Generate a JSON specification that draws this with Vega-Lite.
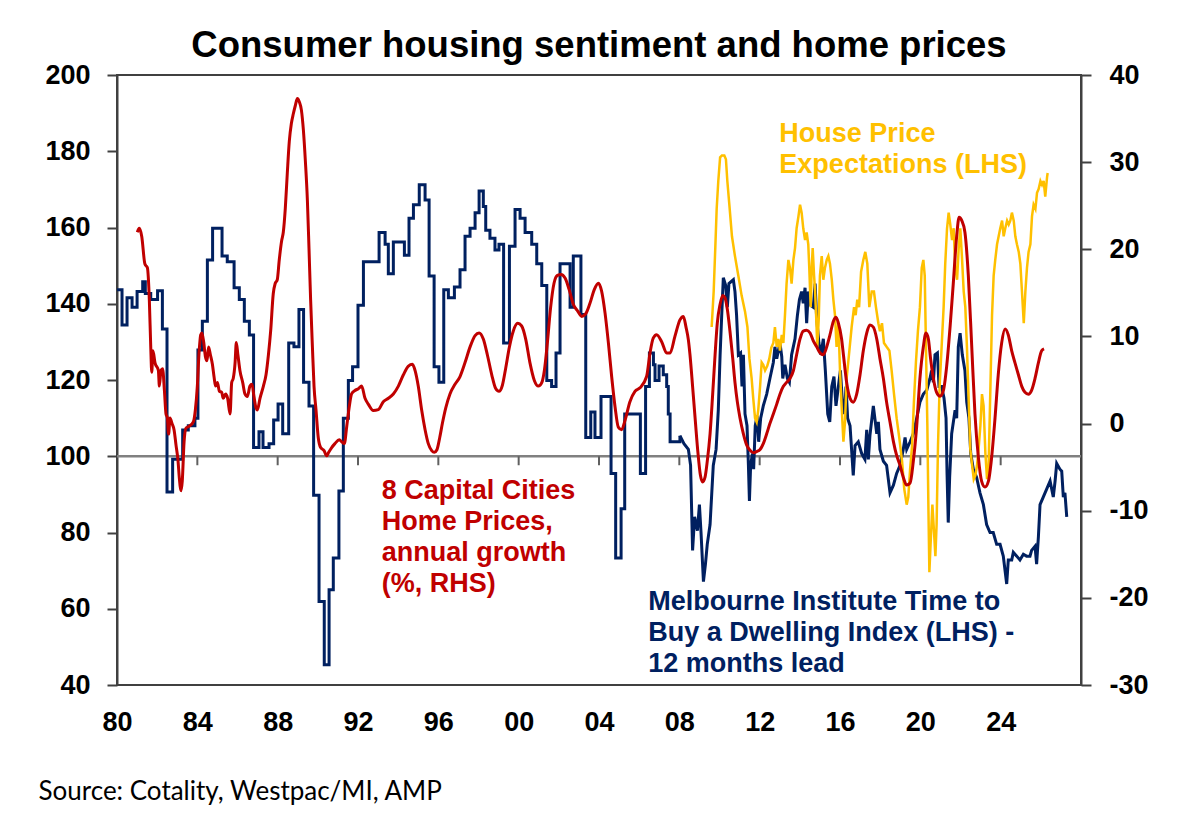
{
  "$schema": "https://vega.github.io/schema/vega-lite/v6.json",
  "width": 964,
  "height": 610,
  "autosize": {"type": "none"},
  "padding": {"left": 117, "top": 75, "right": 96, "bottom": 139},
  "background": "white",
  "config": {"view": {"stroke": "#404040", "strokeWidth": 2}, "font": "Liberation Sans"},
  "title": {
    "text": "Consumer housing sentiment and home prices",
    "font": "Liberation Sans",
    "fontSize": 36.5,
    "fontWeight": "bold",
    "color": "black",
    "anchor": "middle",
    "frame": "group",
    "baseline": "alphabetic",
    "offset": 19,
    "dy": 51
  },
  "datasets": {
    "blueQ": [
      {"t": 1980.00, "v": 143.7}, {"t": 1980.25, "v": 134.4}, {"t": 1980.50, "v": 141.6}, {"t": 1980.75, "v": 139.1},
      {"t": 1981.00, "v": 143.2}, {"t": 1981.28, "v": 145.8}, {"t": 1981.41, "v": 142.7}, {"t": 1981.68, "v": 141.1},
      {"t": 1982.02, "v": 143.4}, {"t": 1982.26, "v": 133.4}, {"t": 1982.49, "v": 90.6}, {"t": 1982.77, "v": 99.2},
      {"t": 1983.27, "v": 106.9}, {"t": 1983.55, "v": 108.0}, {"t": 1983.88, "v": 110.0}, {"t": 1984.03, "v": 127.9},
      {"t": 1984.25, "v": 135.4}, {"t": 1984.50, "v": 151.5}, {"t": 1984.76, "v": 159.8}, {"t": 1985.23, "v": 152.5},
      {"t": 1985.49, "v": 151.0}, {"t": 1985.83, "v": 144.2}, {"t": 1986.09, "v": 141.1}, {"t": 1986.34, "v": 135.4},
      {"t": 1986.59, "v": 131.8}, {"t": 1986.80, "v": 102.3}, {"t": 1987.07, "v": 106.4}, {"t": 1987.27, "v": 102.3},
      {"t": 1987.57, "v": 103.3}, {"t": 1987.80, "v": 109.5}, {"t": 1988.02, "v": 113.7}, {"t": 1988.25, "v": 105.9},
      {"t": 1988.55, "v": 129.7}, {"t": 1988.81, "v": 128.7}, {"t": 1989.06, "v": 138.5}, {"t": 1989.29, "v": 119.4},
      {"t": 1989.56, "v": 113.2}, {"t": 1989.79, "v": 89.8}, {"t": 1990.06, "v": 61.9}, {"t": 1990.32, "v": 45.3},
      {"t": 1990.56, "v": 65.0}, {"t": 1990.77, "v": 73.3}, {"t": 1991.05, "v": 90.9}, {"t": 1991.27, "v": 110.0},
      {"t": 1991.52, "v": 119.9}, {"t": 1991.73, "v": 123.5}, {"t": 1992.00, "v": 139.6}, {"t": 1992.27, "v": 151.0},
      {"t": 1993.05, "v": 158.7}, {"t": 1993.35, "v": 155.6}, {"t": 1993.51, "v": 147.9}, {"t": 1993.76, "v": 156.2},
      {"t": 1994.31, "v": 152.7}, {"t": 1994.54, "v": 162.4}, {"t": 1994.76, "v": 166.0}, {"t": 1995.05, "v": 171.2},
      {"t": 1995.34, "v": 167.2}, {"t": 1995.54, "v": 147.3}, {"t": 1995.79, "v": 123.5}, {"t": 1996.03, "v": 119.4},
      {"t": 1996.27, "v": 143.7}, {"t": 1996.50, "v": 141.6}, {"t": 1996.80, "v": 144.4}, {"t": 1997.08, "v": 148.9},
      {"t": 1997.33, "v": 157.7}, {"t": 1997.58, "v": 159.8}, {"t": 1997.83, "v": 163.9}, {"t": 1998.03, "v": 169.6},
      {"t": 1998.24, "v": 165.5}, {"t": 1998.36, "v": 159.3}, {"t": 1998.57, "v": 157.2}, {"t": 1998.82, "v": 154.1},
      {"t": 1999.02, "v": 155.6}, {"t": 1999.25, "v": 129.7}, {"t": 1999.54, "v": 155.1}, {"t": 1999.82, "v": 164.7},
      {"t": 2000.07, "v": 162.4}, {"t": 2000.32, "v": 158.7}, {"t": 2000.65, "v": 155.6}, {"t": 2000.90, "v": 150.5},
      {"t": 2001.15, "v": 144.8}, {"t": 2001.40, "v": 119.9}, {"t": 2001.64, "v": 118.3}, {"t": 2001.86, "v": 127.1},
      {"t": 2002.06, "v": 150.5}, {"t": 2002.56, "v": 139.1}, {"t": 2002.72, "v": 152.5}, {"t": 2003.10, "v": 137.2},
      {"t": 2003.34, "v": 104.9}, {"t": 2003.59, "v": 111.6}, {"t": 2003.80, "v": 104.9}, {"t": 2004.10, "v": 115.7},
      {"t": 2004.60, "v": 95.5}, {"t": 2004.83, "v": 73.3}, {"t": 2005.10, "v": 86.2}, {"t": 2005.28, "v": 111.1},
      {"t": 2006.06, "v": 95.5}, {"t": 2006.32, "v": 118.3}, {"t": 2006.51, "v": 127.1}, {"t": 2006.71, "v": 124.0},
      {"t": 2006.79, "v": 119.9}, {"t": 2006.99, "v": 123.7}, {"t": 2007.20, "v": 121.4}, {"t": 2007.37, "v": 118.3},
      {"t": 2007.45, "v": 111.1}, {"t": 2007.54, "v": 103.8}, {"t": 2008.03, "v": 105.4}
    ],
    "blueM": [
      {"t": 2008.03, "v": 105.4}, {"t": 2008.23, "v": 103.3}, {"t": 2008.45, "v": 101.8}, {"t": 2008.56, "v": 97.6},
      {"t": 2008.66, "v": 75.3}, {"t": 2008.76, "v": 84.1}, {"t": 2008.90, "v": 80.5}, {"t": 2009.00, "v": 87.3},
      {"t": 2009.08, "v": 80.0}, {"t": 2009.20, "v": 67.1}, {"t": 2009.30, "v": 71.7}, {"t": 2009.39, "v": 76.9},
      {"t": 2009.53, "v": 82.1}, {"t": 2009.69, "v": 97.6}, {"t": 2009.83, "v": 101.8}, {"t": 2009.94, "v": 112.1},
      {"t": 2010.03, "v": 126.6}, {"t": 2010.11, "v": 137.0}, {"t": 2010.19, "v": 146.8}, {"t": 2010.31, "v": 144.8},
      {"t": 2010.39, "v": 139.1}, {"t": 2010.47, "v": 145.3}, {"t": 2010.69, "v": 146.3}, {"t": 2010.77, "v": 143.2},
      {"t": 2010.85, "v": 137.0}, {"t": 2010.94, "v": 126.6}, {"t": 2011.05, "v": 127.1}, {"t": 2011.12, "v": 118.3},
      {"t": 2011.19, "v": 126.6}, {"t": 2011.27, "v": 111.1}, {"t": 2011.37, "v": 108.0}, {"t": 2011.44, "v": 97.6},
      {"t": 2011.49, "v": 88.3}, {"t": 2011.55, "v": 97.6}, {"t": 2011.64, "v": 100.7}, {"t": 2011.70, "v": 96.6},
      {"t": 2011.78, "v": 108.0}, {"t": 2011.87, "v": 110.6}, {"t": 2011.95, "v": 103.8}, {"t": 2012.05, "v": 110.0},
      {"t": 2012.18, "v": 113.2}, {"t": 2012.35, "v": 116.3}, {"t": 2012.51, "v": 120.4}, {"t": 2012.68, "v": 124.6},
      {"t": 2012.76, "v": 128.7}, {"t": 2012.85, "v": 125.6}, {"t": 2013.01, "v": 129.7}, {"t": 2013.10, "v": 126.1},
      {"t": 2013.15, "v": 120.4}, {"t": 2013.26, "v": 124.0}, {"t": 2013.38, "v": 120.4}, {"t": 2013.48, "v": 119.4},
      {"t": 2013.59, "v": 126.6}, {"t": 2013.76, "v": 130.8}, {"t": 2013.88, "v": 137.0}, {"t": 2013.98, "v": 141.1},
      {"t": 2014.09, "v": 143.2}, {"t": 2014.17, "v": 140.1}, {"t": 2014.26, "v": 144.2}, {"t": 2014.34, "v": 134.9},
      {"t": 2014.42, "v": 143.2}, {"t": 2014.54, "v": 139.6}, {"t": 2014.67, "v": 139.1}, {"t": 2014.76, "v": 145.3},
      {"t": 2014.84, "v": 136.0}, {"t": 2014.95, "v": 129.7}, {"t": 2015.05, "v": 126.6}, {"t": 2015.17, "v": 130.8},
      {"t": 2015.27, "v": 122.5}, {"t": 2015.39, "v": 111.1}, {"t": 2015.49, "v": 109.0}, {"t": 2015.59, "v": 118.3},
      {"t": 2015.70, "v": 120.9}, {"t": 2015.80, "v": 113.2}, {"t": 2015.92, "v": 118.3}, {"t": 2016.02, "v": 122.5},
      {"t": 2016.12, "v": 114.2}, {"t": 2016.22, "v": 111.1}, {"t": 2016.30, "v": 118.3}, {"t": 2016.38, "v": 110.0},
      {"t": 2016.50, "v": 108.0}, {"t": 2016.66, "v": 95.0}, {"t": 2016.75, "v": 102.8}, {"t": 2016.91, "v": 103.8},
      {"t": 2017.08, "v": 100.7}, {"t": 2017.24, "v": 99.2}, {"t": 2017.33, "v": 106.9}, {"t": 2017.41, "v": 99.2},
      {"t": 2017.49, "v": 105.4}, {"t": 2017.66, "v": 113.2}, {"t": 2017.83, "v": 105.9}, {"t": 2017.91, "v": 109.0},
      {"t": 2017.99, "v": 101.8}, {"t": 2018.16, "v": 98.7}, {"t": 2018.32, "v": 97.6}, {"t": 2018.49, "v": 90.4},
      {"t": 2018.66, "v": 92.4}, {"t": 2018.82, "v": 95.5}, {"t": 2018.99, "v": 97.6}, {"t": 2019.15, "v": 101.8},
      {"t": 2019.24, "v": 104.9}, {"t": 2019.32, "v": 101.8}, {"t": 2019.49, "v": 103.8}, {"t": 2019.65, "v": 105.9},
      {"t": 2019.82, "v": 110.0}, {"t": 2019.98, "v": 114.2}, {"t": 2020.15, "v": 116.3}, {"t": 2020.32, "v": 117.3},
      {"t": 2020.48, "v": 120.4}, {"t": 2020.56, "v": 122.5}, {"t": 2020.65, "v": 119.4}, {"t": 2020.73, "v": 126.6},
      {"t": 2020.85, "v": 127.1}, {"t": 2020.93, "v": 118.3}, {"t": 2021.06, "v": 118.3}, {"t": 2021.18, "v": 115.2},
      {"t": 2021.28, "v": 110.0}, {"t": 2021.33, "v": 95.5}, {"t": 2021.39, "v": 82.6}, {"t": 2021.46, "v": 94.5},
      {"t": 2021.56, "v": 105.9}, {"t": 2021.73, "v": 112.1}, {"t": 2021.81, "v": 110.0}, {"t": 2021.89, "v": 128.7},
      {"t": 2021.98, "v": 132.3}, {"t": 2022.09, "v": 126.6}, {"t": 2022.22, "v": 122.5}, {"t": 2022.31, "v": 114.2},
      {"t": 2022.42, "v": 110.0}, {"t": 2022.51, "v": 100.7}, {"t": 2022.64, "v": 96.6}, {"t": 2022.80, "v": 94.5},
      {"t": 2022.97, "v": 90.4}, {"t": 2023.14, "v": 87.3}, {"t": 2023.30, "v": 82.1}, {"t": 2023.47, "v": 80.0},
      {"t": 2023.63, "v": 80.0}, {"t": 2023.80, "v": 76.9}, {"t": 2023.97, "v": 76.9}, {"t": 2024.13, "v": 73.8},
      {"t": 2024.30, "v": 66.5}, {"t": 2024.38, "v": 72.8}, {"t": 2024.55, "v": 72.8}, {"t": 2024.63, "v": 74.8},
      {"t": 2024.80, "v": 73.8}, {"t": 2024.96, "v": 72.8}, {"t": 2025.13, "v": 74.3}, {"t": 2025.29, "v": 73.8},
      {"t": 2025.46, "v": 73.8}, {"t": 2025.54, "v": 75.3}, {"t": 2025.71, "v": 76.4}, {"t": 2025.79, "v": 71.7},
      {"t": 2025.88, "v": 79.0}, {"t": 2025.96, "v": 87.3}, {"t": 2026.12, "v": 89.3}, {"t": 2026.29, "v": 91.4},
      {"t": 2026.46, "v": 93.5}, {"t": 2026.62, "v": 89.3}, {"t": 2026.71, "v": 93.5}, {"t": 2026.79, "v": 98.1},
      {"t": 2026.95, "v": 96.6}, {"t": 2027.04, "v": 96.1}, {"t": 2027.12, "v": 89.3}, {"t": 2027.20, "v": 90.4},
      {"t": 2027.29, "v": 84.1}
    ],
    "yellow": [
      {"t": 2009.61, "v": 133.9}, {"t": 2009.71, "v": 143.2}, {"t": 2009.79, "v": 154.6}, {"t": 2009.86, "v": 165.0},
      {"t": 2009.94, "v": 172.2}, {"t": 2010.03, "v": 178.4}, {"t": 2010.12, "v": 178.9}, {"t": 2010.24, "v": 178.9},
      {"t": 2010.32, "v": 177.9}, {"t": 2010.39, "v": 172.2}, {"t": 2010.49, "v": 166.0}, {"t": 2010.62, "v": 157.7},
      {"t": 2010.77, "v": 152.5}, {"t": 2010.94, "v": 147.3}, {"t": 2011.10, "v": 142.2}, {"t": 2011.27, "v": 138.0},
      {"t": 2011.39, "v": 133.9}, {"t": 2011.49, "v": 125.6}, {"t": 2011.60, "v": 120.4}, {"t": 2011.68, "v": 115.2},
      {"t": 2011.77, "v": 110.0}, {"t": 2011.85, "v": 109.0}, {"t": 2011.93, "v": 112.1}, {"t": 2012.02, "v": 118.3},
      {"t": 2012.10, "v": 124.6}, {"t": 2012.18, "v": 124.0}, {"t": 2012.27, "v": 122.5}, {"t": 2012.38, "v": 123.7},
      {"t": 2012.48, "v": 125.6}, {"t": 2012.58, "v": 128.5}, {"t": 2012.68, "v": 129.7}, {"t": 2012.76, "v": 133.9},
      {"t": 2012.85, "v": 128.7}, {"t": 2012.93, "v": 130.8}, {"t": 2013.01, "v": 127.7}, {"t": 2013.10, "v": 131.8},
      {"t": 2013.18, "v": 129.7}, {"t": 2013.26, "v": 137.0}, {"t": 2013.34, "v": 145.3}, {"t": 2013.43, "v": 151.5},
      {"t": 2013.51, "v": 149.4}, {"t": 2013.59, "v": 145.3}, {"t": 2013.68, "v": 151.5}, {"t": 2013.76, "v": 154.6},
      {"t": 2013.84, "v": 159.8}, {"t": 2013.93, "v": 162.9}, {"t": 2014.01, "v": 166.0}, {"t": 2014.09, "v": 163.9},
      {"t": 2014.17, "v": 159.8}, {"t": 2014.26, "v": 156.7}, {"t": 2014.34, "v": 158.7}, {"t": 2014.42, "v": 155.6},
      {"t": 2014.47, "v": 149.4}, {"t": 2014.54, "v": 139.1}, {"t": 2014.59, "v": 149.4}, {"t": 2014.64, "v": 154.6},
      {"t": 2014.71, "v": 147.3}, {"t": 2014.76, "v": 143.2}, {"t": 2014.81, "v": 137.0}, {"t": 2014.87, "v": 128.7},
      {"t": 2014.94, "v": 135.9}, {"t": 2015.00, "v": 147.3}, {"t": 2015.09, "v": 152.5}, {"t": 2015.17, "v": 146.3},
      {"t": 2015.25, "v": 149.4}, {"t": 2015.34, "v": 151.5}, {"t": 2015.42, "v": 152.5}, {"t": 2015.50, "v": 150.5},
      {"t": 2015.59, "v": 146.3}, {"t": 2015.67, "v": 141.1}, {"t": 2015.75, "v": 137.0}, {"t": 2015.83, "v": 128.7},
      {"t": 2015.92, "v": 134.9}, {"t": 2016.00, "v": 122.5}, {"t": 2016.08, "v": 113.2}, {"t": 2016.17, "v": 103.8},
      {"t": 2016.25, "v": 109.0}, {"t": 2016.33, "v": 120.4}, {"t": 2016.41, "v": 124.6}, {"t": 2016.58, "v": 133.9},
      {"t": 2016.70, "v": 139.1}, {"t": 2016.78, "v": 137.0}, {"t": 2016.86, "v": 141.1}, {"t": 2016.95, "v": 139.1},
      {"t": 2017.05, "v": 148.4}, {"t": 2017.16, "v": 151.5}, {"t": 2017.26, "v": 153.6}, {"t": 2017.36, "v": 150.5},
      {"t": 2017.46, "v": 139.1}, {"t": 2017.58, "v": 143.2}, {"t": 2017.69, "v": 143.2}, {"t": 2017.79, "v": 139.1},
      {"t": 2017.91, "v": 134.9}, {"t": 2017.99, "v": 132.8}, {"t": 2018.09, "v": 134.9}, {"t": 2018.19, "v": 129.7},
      {"t": 2018.32, "v": 128.7}, {"t": 2018.46, "v": 127.7}, {"t": 2018.57, "v": 122.5}, {"t": 2018.69, "v": 116.3},
      {"t": 2018.82, "v": 110.0}, {"t": 2018.95, "v": 104.9}, {"t": 2019.09, "v": 98.7}, {"t": 2019.20, "v": 91.4},
      {"t": 2019.32, "v": 87.3}, {"t": 2019.40, "v": 89.3}, {"t": 2019.49, "v": 96.6}, {"t": 2019.59, "v": 102.8},
      {"t": 2019.68, "v": 114.2}, {"t": 2019.78, "v": 124.6}, {"t": 2019.88, "v": 132.8}, {"t": 2019.98, "v": 139.1},
      {"t": 2020.07, "v": 149.4}, {"t": 2020.15, "v": 151.5}, {"t": 2020.22, "v": 147.3}, {"t": 2020.28, "v": 128.7},
      {"t": 2020.35, "v": 108.0}, {"t": 2020.40, "v": 87.3}, {"t": 2020.45, "v": 69.6}, {"t": 2020.51, "v": 76.9},
      {"t": 2020.60, "v": 87.3}, {"t": 2020.66, "v": 82.1}, {"t": 2020.75, "v": 73.8}, {"t": 2020.81, "v": 82.1},
      {"t": 2020.88, "v": 102.8}, {"t": 2020.96, "v": 118.3}, {"t": 2021.06, "v": 128.7}, {"t": 2021.16, "v": 139.1},
      {"t": 2021.24, "v": 150.5}, {"t": 2021.33, "v": 159.8}, {"t": 2021.41, "v": 163.9}, {"t": 2021.49, "v": 160.8},
      {"t": 2021.58, "v": 156.7}, {"t": 2021.66, "v": 159.8}, {"t": 2021.74, "v": 149.4}, {"t": 2021.83, "v": 146.3},
      {"t": 2021.91, "v": 154.6}, {"t": 2021.99, "v": 159.8}, {"t": 2022.07, "v": 152.5}, {"t": 2022.16, "v": 143.2},
      {"t": 2022.24, "v": 139.1}, {"t": 2022.32, "v": 128.7}, {"t": 2022.41, "v": 114.2}, {"t": 2022.49, "v": 101.8},
      {"t": 2022.57, "v": 98.0}, {"t": 2022.66, "v": 94.0}, {"t": 2022.74, "v": 95.0}, {"t": 2022.82, "v": 97.5},
      {"t": 2022.90, "v": 101.8}, {"t": 2022.99, "v": 108.0}, {"t": 2023.07, "v": 116.3}, {"t": 2023.15, "v": 113.2},
      {"t": 2023.24, "v": 100.7}, {"t": 2023.32, "v": 94.0}, {"t": 2023.40, "v": 97.6}, {"t": 2023.49, "v": 118.3},
      {"t": 2023.57, "v": 137.0}, {"t": 2023.65, "v": 147.3}, {"t": 2023.73, "v": 151.5}, {"t": 2023.82, "v": 155.6},
      {"t": 2023.90, "v": 157.7}, {"t": 2023.98, "v": 159.8}, {"t": 2024.07, "v": 161.8}, {"t": 2024.15, "v": 157.7},
      {"t": 2024.23, "v": 159.8}, {"t": 2024.32, "v": 161.8}, {"t": 2024.40, "v": 160.8}, {"t": 2024.48, "v": 161.8},
      {"t": 2024.56, "v": 163.9}, {"t": 2024.65, "v": 161.8}, {"t": 2024.73, "v": 157.7}, {"t": 2024.81, "v": 155.6},
      {"t": 2024.90, "v": 153.6}, {"t": 2024.98, "v": 150.5}, {"t": 2025.06, "v": 143.2}, {"t": 2025.15, "v": 134.9},
      {"t": 2025.23, "v": 143.2}, {"t": 2025.31, "v": 149.4}, {"t": 2025.39, "v": 153.6}, {"t": 2025.48, "v": 155.6},
      {"t": 2025.56, "v": 162.9}, {"t": 2025.64, "v": 166.0}, {"t": 2025.73, "v": 164.9}, {"t": 2025.81, "v": 169.1},
      {"t": 2025.89, "v": 170.1}, {"t": 2025.98, "v": 172.2}, {"t": 2026.06, "v": 171.2}, {"t": 2026.14, "v": 172.2},
      {"t": 2026.22, "v": 168.1}, {"t": 2026.31, "v": 173.2}, {"t": 2026.34, "v": 174.3}
    ],
    "red": [
      {"t": 1981.01, "v": 21.95}, {"t": 1981.11, "v": 22.4}, {"t": 1981.23, "v": 21.5}, {"t": 1981.39, "v": 18.3},
      {"t": 1981.51, "v": 17.9}, {"t": 1981.61, "v": 14.2}, {"t": 1981.68, "v": 8.8}, {"t": 1981.73, "v": 5.9},
      {"t": 1981.79, "v": 8.35}, {"t": 1981.89, "v": 7.0}, {"t": 1982.06, "v": 6.1}, {"t": 1982.11, "v": 4.3},
      {"t": 1982.19, "v": 6.1}, {"t": 1982.27, "v": 6.3}, {"t": 1982.36, "v": 3.8}, {"t": 1982.44, "v": 1.1},
      {"t": 1982.51, "v": 0.65}, {"t": 1982.57, "v": -1.2}, {"t": 1982.64, "v": 0.65}, {"t": 1982.74, "v": 0.0},
      {"t": 1982.84, "v": -0.7}, {"t": 1982.94, "v": -2.5}, {"t": 1983.04, "v": -4.3}, {"t": 1983.10, "v": -6.15},
      {"t": 1983.19, "v": -7.7}, {"t": 1983.25, "v": -6.6}, {"t": 1983.34, "v": -2.1}, {"t": 1983.44, "v": -0.5},
      {"t": 1983.60, "v": -0.3}, {"t": 1983.80, "v": 0.2}, {"t": 1983.90, "v": 1.55}, {"t": 1984.00, "v": 4.3},
      {"t": 1984.08, "v": 7.9}, {"t": 1984.17, "v": 10.2}, {"t": 1984.23, "v": 10.4}, {"t": 1984.32, "v": 9.3},
      {"t": 1984.40, "v": 7.7}, {"t": 1984.48, "v": 7.2}, {"t": 1984.56, "v": 8.8}, {"t": 1984.65, "v": 7.9},
      {"t": 1984.75, "v": 6.8}, {"t": 1984.83, "v": 5.4}, {"t": 1984.91, "v": 4.3}, {"t": 1985.00, "v": 4.7},
      {"t": 1985.10, "v": 3.7}, {"t": 1985.21, "v": 3.6}, {"t": 1985.29, "v": 2.9}, {"t": 1985.41, "v": 3.4},
      {"t": 1985.51, "v": 2.9}, {"t": 1985.63, "v": 1.1}, {"t": 1985.71, "v": 4.7}, {"t": 1985.79, "v": 5.2},
      {"t": 1985.88, "v": 7.0}, {"t": 1985.94, "v": 9.3}, {"t": 1986.02, "v": 7.9}, {"t": 1986.12, "v": 6.1},
      {"t": 1986.26, "v": 4.7}, {"t": 1986.37, "v": 3.4}, {"t": 1986.49, "v": 3.1}, {"t": 1986.62, "v": 4.3},
      {"t": 1986.72, "v": 4.5}, {"t": 1986.82, "v": 3.1}, {"t": 1986.92, "v": 1.8}, {"t": 1986.99, "v": 1.55},
      {"t": 1987.12, "v": 2.9}, {"t": 1987.29, "v": 4.3}, {"t": 1987.42, "v": 5.6}, {"t": 1987.54, "v": 7.9},
      {"t": 1987.65, "v": 10.6}, {"t": 1987.78, "v": 14.9}, {"t": 1987.88, "v": 16.1}, {"t": 1987.98, "v": 16.5},
      {"t": 1988.08, "v": 18.8}, {"t": 1988.20, "v": 21.0}, {"t": 1988.28, "v": 21.95}, {"t": 1988.38, "v": 24.7},
      {"t": 1988.48, "v": 28.75}, {"t": 1988.58, "v": 32.4}, {"t": 1988.68, "v": 34.4}, {"t": 1988.78, "v": 35.55},
      {"t": 1988.88, "v": 36.5}, {"t": 1988.98, "v": 37.3}, {"t": 1989.08, "v": 36.9}, {"t": 1989.18, "v": 36.0},
      {"t": 1989.28, "v": 33.7}, {"t": 1989.38, "v": 30.1}, {"t": 1989.48, "v": 25.6}, {"t": 1989.56, "v": 20.1},
      {"t": 1989.64, "v": 14.25}, {"t": 1989.73, "v": 8.8}, {"t": 1989.81, "v": 4.3}, {"t": 1989.91, "v": 1.55},
      {"t": 1990.02, "v": -1.6}, {"t": 1990.14, "v": -2.75}, {"t": 1990.31, "v": -3.1}, {"t": 1990.44, "v": -3.7},
      {"t": 1990.54, "v": -3.3}, {"t": 1990.69, "v": -2.75}, {"t": 1990.85, "v": -2.3}, {"t": 1991.07, "v": -1.85},
      {"t": 1991.19, "v": -2.1}, {"t": 1991.32, "v": -2.3}, {"t": 1991.44, "v": -0.3}, {"t": 1991.57, "v": 2.0},
      {"t": 1991.68, "v": 3.4}, {"t": 1991.85, "v": 3.8}, {"t": 1992.02, "v": 4.0}, {"t": 1992.18, "v": 4.3},
      {"t": 1992.35, "v": 2.9}, {"t": 1992.52, "v": 2.2}, {"t": 1992.76, "v": 1.5}, {"t": 1993.01, "v": 1.6},
      {"t": 1993.26, "v": 2.5}, {"t": 1993.51, "v": 2.9}, {"t": 1993.76, "v": 3.4}, {"t": 1994.01, "v": 4.3},
      {"t": 1994.26, "v": 5.6}, {"t": 1994.51, "v": 6.6}, {"t": 1994.71, "v": 6.8}, {"t": 1994.84, "v": 6.1},
      {"t": 1995.00, "v": 4.3}, {"t": 1995.17, "v": 1.55}, {"t": 1995.34, "v": -0.7}, {"t": 1995.50, "v": -2.3},
      {"t": 1995.67, "v": -3.1}, {"t": 1995.80, "v": -3.3}, {"t": 1995.93, "v": -3.0}, {"t": 1996.07, "v": -1.6},
      {"t": 1996.20, "v": 0.0}, {"t": 1996.37, "v": 1.8}, {"t": 1996.58, "v": 3.4}, {"t": 1996.83, "v": 4.5},
      {"t": 1997.08, "v": 5.4}, {"t": 1997.33, "v": 7.0}, {"t": 1997.58, "v": 8.8}, {"t": 1997.83, "v": 10.1},
      {"t": 1998.03, "v": 10.4}, {"t": 1998.24, "v": 9.7}, {"t": 1998.44, "v": 7.9}, {"t": 1998.66, "v": 5.6},
      {"t": 1998.85, "v": 4.05}, {"t": 1999.02, "v": 3.7}, {"t": 1999.19, "v": 4.4}, {"t": 1999.35, "v": 6.3},
      {"t": 1999.54, "v": 8.8}, {"t": 1999.73, "v": 10.6}, {"t": 1999.95, "v": 11.5}, {"t": 2000.15, "v": 11.2},
      {"t": 2000.35, "v": 9.7}, {"t": 2000.56, "v": 7.0}, {"t": 2000.78, "v": 4.95}, {"t": 2000.98, "v": 4.3},
      {"t": 2001.15, "v": 4.7}, {"t": 2001.28, "v": 6.1}, {"t": 2001.43, "v": 9.3}, {"t": 2001.59, "v": 13.3},
      {"t": 2001.76, "v": 16.1}, {"t": 2001.93, "v": 17.0}, {"t": 2002.11, "v": 17.1}, {"t": 2002.31, "v": 16.7},
      {"t": 2002.51, "v": 15.4}, {"t": 2002.72, "v": 13.7}, {"t": 2002.94, "v": 12.9}, {"t": 2003.14, "v": 12.3},
      {"t": 2003.34, "v": 12.6}, {"t": 2003.55, "v": 13.8}, {"t": 2003.77, "v": 15.4}, {"t": 2003.97, "v": 16.1},
      {"t": 2004.13, "v": 15.2}, {"t": 2004.30, "v": 12.7}, {"t": 2004.47, "v": 9.2}, {"t": 2004.63, "v": 5.4},
      {"t": 2004.80, "v": 1.9}, {"t": 2004.96, "v": -0.4}, {"t": 2005.13, "v": -0.7}, {"t": 2005.30, "v": 0.4},
      {"t": 2005.54, "v": 2.5}, {"t": 2005.79, "v": 3.7}, {"t": 2006.04, "v": 4.1}, {"t": 2006.37, "v": 5.4},
      {"t": 2006.54, "v": 8.1}, {"t": 2006.70, "v": 9.8}, {"t": 2006.87, "v": 10.2}, {"t": 2007.12, "v": 9.4},
      {"t": 2007.37, "v": 8.1}, {"t": 2007.54, "v": 8.1}, {"t": 2007.78, "v": 10.0}, {"t": 2008.03, "v": 11.9},
      {"t": 2008.20, "v": 12.3}, {"t": 2008.33, "v": 11.1}, {"t": 2008.45, "v": 9.6}, {"t": 2008.53, "v": 7.9},
      {"t": 2008.66, "v": 4.27}, {"t": 2008.80, "v": 0.19}, {"t": 2008.93, "v": -3.43}, {"t": 2009.05, "v": -5.93},
      {"t": 2009.16, "v": -6.7}, {"t": 2009.28, "v": -6.15}, {"t": 2009.39, "v": -4.34}, {"t": 2009.53, "v": -1.17},
      {"t": 2009.66, "v": 3.37}, {"t": 2009.78, "v": 7.9}, {"t": 2009.89, "v": 11.53}, {"t": 2010.03, "v": 13.7},
      {"t": 2010.16, "v": 14.7}, {"t": 2010.27, "v": 14.47}, {"t": 2010.39, "v": 13.11}, {"t": 2010.52, "v": 10.62},
      {"t": 2010.66, "v": 7.45}, {"t": 2010.77, "v": 4.73}, {"t": 2010.89, "v": 2.46}, {"t": 2011.02, "v": 0.65},
      {"t": 2011.19, "v": -1.17}, {"t": 2011.35, "v": -2.44}, {"t": 2011.52, "v": -3.07}, {"t": 2011.69, "v": -3.34},
      {"t": 2011.85, "v": -3.21}, {"t": 2012.02, "v": -2.98}, {"t": 2012.18, "v": -2.3}, {"t": 2012.35, "v": -1.17},
      {"t": 2012.51, "v": 0.0}, {"t": 2012.68, "v": 1.1}, {"t": 2012.85, "v": 2.23}, {"t": 2013.01, "v": 3.37},
      {"t": 2013.18, "v": 4.27}, {"t": 2013.34, "v": 4.73}, {"t": 2013.51, "v": 5.18}, {"t": 2013.68, "v": 6.09},
      {"t": 2013.84, "v": 7.9}, {"t": 2014.01, "v": 9.71}, {"t": 2014.17, "v": 10.62}, {"t": 2014.34, "v": 10.71},
      {"t": 2014.51, "v": 10.39}, {"t": 2014.67, "v": 9.49}, {"t": 2014.84, "v": 8.81}, {"t": 2015.00, "v": 8.13},
      {"t": 2015.17, "v": 7.9}, {"t": 2015.34, "v": 8.81}, {"t": 2015.50, "v": 10.17}, {"t": 2015.67, "v": 11.75},
      {"t": 2015.80, "v": 12.21}, {"t": 2015.92, "v": 11.53}, {"t": 2016.08, "v": 9.71}, {"t": 2016.17, "v": 7.9},
      {"t": 2016.33, "v": 4.73}, {"t": 2016.50, "v": 2.91}, {"t": 2016.66, "v": 2.46}, {"t": 2016.83, "v": 3.37},
      {"t": 2017.00, "v": 5.63}, {"t": 2017.16, "v": 8.35}, {"t": 2017.33, "v": 10.39}, {"t": 2017.49, "v": 11.3},
      {"t": 2017.66, "v": 11.07}, {"t": 2017.83, "v": 9.71}, {"t": 2017.99, "v": 7.45}, {"t": 2018.16, "v": 5.18},
      {"t": 2018.32, "v": 2.46}, {"t": 2018.49, "v": 0.19}, {"t": 2018.66, "v": -2.07}, {"t": 2018.82, "v": -3.66},
      {"t": 2018.99, "v": -4.79}, {"t": 2019.15, "v": -6.15}, {"t": 2019.32, "v": -7.06}, {"t": 2019.49, "v": -6.83},
      {"t": 2019.65, "v": -4.34}, {"t": 2019.82, "v": -0.26}, {"t": 2019.98, "v": 5.18}, {"t": 2020.15, "v": 8.81},
      {"t": 2020.28, "v": 10.39}, {"t": 2020.40, "v": 9.71}, {"t": 2020.51, "v": 7.45}, {"t": 2020.65, "v": 5.18},
      {"t": 2020.81, "v": 3.59}, {"t": 2020.98, "v": 3.14}, {"t": 2021.15, "v": 3.82}, {"t": 2021.31, "v": 6.54},
      {"t": 2021.48, "v": 11.07}, {"t": 2021.64, "v": 16.06}, {"t": 2021.81, "v": 21.5}, {"t": 2021.93, "v": 23.67},
      {"t": 2022.06, "v": 23.31}, {"t": 2022.22, "v": 21.95}, {"t": 2022.39, "v": 16.97}, {"t": 2022.56, "v": 8.81},
      {"t": 2022.72, "v": 1.1}, {"t": 2022.89, "v": -3.89}, {"t": 2023.05, "v": -6.61}, {"t": 2023.22, "v": -7.29},
      {"t": 2023.39, "v": -6.61}, {"t": 2023.55, "v": -3.89}, {"t": 2023.72, "v": 0.65}, {"t": 2023.88, "v": 5.63},
      {"t": 2024.05, "v": 9.26}, {"t": 2024.22, "v": 10.85}, {"t": 2024.38, "v": 10.17}, {"t": 2024.55, "v": 8.35},
      {"t": 2024.71, "v": 6.99}, {"t": 2024.88, "v": 5.63}, {"t": 2025.05, "v": 4.27}, {"t": 2025.21, "v": 3.59},
      {"t": 2025.38, "v": 3.37}, {"t": 2025.54, "v": 3.82}, {"t": 2025.71, "v": 5.18}, {"t": 2025.88, "v": 6.99},
      {"t": 2026.04, "v": 8.35}, {"t": 2026.16, "v": 8.58}
    ],
    "base": [{"t": 1980, "v": 100}, {"t": 2028, "v": 100}],
    "ticks": [
      {"t": 1984, "v": 100}, {"t": 1988, "v": 100}, {"t": 1992, "v": 100}, {"t": 1996, "v": 100},
      {"t": 2000, "v": 100}, {"t": 2004, "v": 100}, {"t": 2008, "v": 100}, {"t": 2012, "v": 100},
      {"t": 2016, "v": 100}, {"t": 2020, "v": 100}, {"t": 2024, "v": 100}
    ],
    "labels": [
      {"t": 2012.98, "v": 182.5, "s": "yellow", "lines": ["House Price", "Expectations (LHS)"]},
      {"t": 1993.18, "v": 88.8, "s": "red", "lines": ["8 Capital Cities", "Home Prices,", "annual growth", "(%, RHS)"]},
      {"t": 2006.45, "v": 59.7, "s": "blue", "lines": ["Melbourne Institute Time to", "Buy a Dwelling Index (LHS) -", "12 months lead"]}
    ]
  },
  "layer": [
    {
      "encoding": {
        "x": {
          "field": "t",
          "type": "quantitative",
          "scale": {"domain": [1980, 2028], "nice": false, "zero": false},
          "axis": {
            "orient": "bottom",
            "values": [1980, 1984, 1988, 1992, 1996, 2000, 2004, 2008, 2012, 2016, 2020, 2024],
            "labelExpr": "substring(toString(datum.value), 2)",
            "grid": false,
            "domain": false,
            "ticks": false,
            "tickSize": 0,
            "labelFlush": false,
            "labelOverlap": false,
            "labelFont": "Liberation Sans",
            "labelFontSize": 27,
            "labelFontWeight": "bold",
            "labelColor": "black",
            "labelBaseline": "middle",
            "labelPadding": 37,
            "title": "Source: Cotality, Westpac/MI, AMP",
            "titleFont": "Lato",
            "titleFontSize": 26,
            "titleFontWeight": "normal",
            "titleColor": "black",
            "titleAnchor": "start",
            "titleAlign": "left",
            "titleBaseline": "alphabetic",
            "titleX": -79,
            "titleY": 114
          }
        },
        "y": {
          "field": "v",
          "type": "quantitative",
          "scale": {"domain": [40, 200], "nice": false, "zero": false},
          "axis": {
            "orient": "left",
            "values": [40, 60, 80, 100, 120, 140, 160, 180, 200],
            "grid": false,
            "domainColor": "#404040",
            "domainWidth": 2,
            "tickSize": 10,
            "tickColor": "#404040",
            "tickWidth": 2,
            "labelFont": "Liberation Sans",
            "labelFontSize": 27,
            "labelFontWeight": "bold",
            "labelColor": "black",
            "labelPadding": 17,
            "title": null
          }
        }
      },
      "layer": [
        {
          "data": {"name": "base"},
          "mark": {"type": "line", "color": "#808080", "strokeWidth": 2.5}
        },
        {
          "data": {"name": "ticks"},
          "mark": {"type": "rule", "color": "#606060", "strokeWidth": 2, "y2Offset": 9},
          "encoding": {"y2": {"field": "v"}}
        },
        {
          "data": {"name": "blueQ"},
          "mark": {"type": "line", "interpolate": "step-after", "color": "#002060", "strokeWidth": 3}
        },
        {
          "data": {"name": "blueM"},
          "mark": {"type": "line", "color": "#002060", "strokeWidth": 3}
        },
        {
          "data": {"name": "yellow"},
          "mark": {"type": "line", "color": "#FFC000", "strokeWidth": 2.5}
        },
        {
          "data": {"name": "labels"},
          "mark": {"type": "text", "align": "left", "baseline": "alphabetic", "font": "Liberation Sans", "fontSize": 27, "fontWeight": "bold", "lineHeight": 31},
          "encoding": {
            "text": {"field": "lines"},
            "color": {
              "field": "s",
              "type": "nominal",
              "scale": {"domain": ["yellow", "red", "blue"], "range": ["#FFC000", "#C00000", "#002060"]},
              "legend": null
            }
          }
        }
      ]
    },
    {
      "data": {"name": "red"},
      "mark": {"type": "line", "interpolate": "monotone", "color": "#C00000", "strokeWidth": 3},
      "encoding": {
        "x": {"field": "t", "type": "quantitative", "scale": {"domain": [1980, 2028], "nice": false, "zero": false}, "axis": null},
        "y": {
          "field": "v",
          "type": "quantitative",
          "scale": {"domain": [-30, 40], "nice": false, "zero": false},
          "axis": {
            "orient": "right",
            "values": [-30, -20, -10, 0, 10, 20, 30, 40],
            "labelExpr": "toString(datum.value)",
            "grid": false,
            "domainColor": "#404040",
            "domainWidth": 2,
            "tickSize": 10,
            "tickColor": "#404040",
            "tickWidth": 2,
            "labelFont": "Liberation Sans",
            "labelFontSize": 27,
            "labelFontWeight": "bold",
            "labelColor": "black",
            "labelPadding": 18,
            "title": null
          }
        }
      }
    }
  ],
  "resolve": {"scale": {"y": "independent"}, "axis": {"x": "independent"}}
}
